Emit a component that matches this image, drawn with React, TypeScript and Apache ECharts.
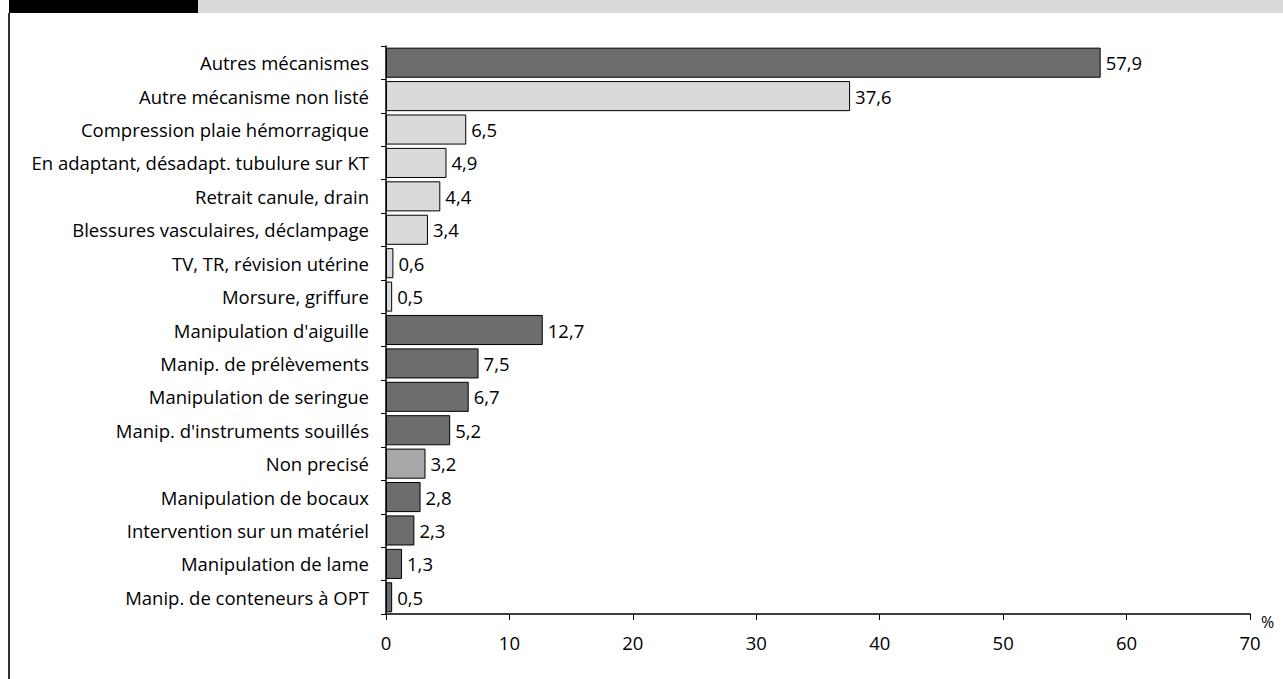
import React, { useEffect, useRef } from "react";
import * as echarts from "echarts";

const categories = [
  "Autres mécanismes",
  "Autre mécanisme non listé",
  "Compression plaie hémorragique",
  "En adaptant, désadapt. tubulure sur KT",
  "Retrait canule, drain",
  "Blessures vasculaires, déclampage",
  "TV, TR, révision utérine",
  "Morsure, griffure",
  "Manipulation d'aiguille",
  "Manip. de prélèvements",
  "Manipulation de seringue",
  "Manip. d'instruments souillés",
  "Non precisé",
  "Manipulation de bocaux",
  "Intervention sur un matériel",
  "Manipulation de lame",
  "Manip. de conteneurs à OPT",
];
const values = [57.9, 37.6, 6.5, 4.9, 4.4, 3.4, 0.6, 0.5, 12.7, 7.5, 6.7, 5.2, 3.2, 2.8, 2.3, 1.3, 0.5];
// group: 0 = dark, 1 = light, 2 = medium
const groups = [0, 1, 1, 1, 1, 1, 1, 1, 0, 0, 0, 0, 2, 0, 0, 0, 0];
const groupColors = ["#6d6d6f", "#d9dadc", "#a8a8aa"];

const FONT = "'Open Sans', 'Noto Sans', sans-serif";
const FS = 18.5;

export default function App() {
  const ref = useRef<HTMLDivElement>(null);
  useEffect(() => {
    const chart = echarts.init(ref.current!, null, { renderer: "svg" });
    chart.setOption({
      animation: false,
      backgroundColor: "#ffffff",
      graphic: [
        { type: "rect", left: 9, top: 0, shape: { width: 189, height: 13 }, style: { fill: "#000000" } },
        { type: "rect", left: 198, top: 0, shape: { width: 1085, height: 13 }, style: { fill: "#d9dadc" } },
        { type: "rect", left: 8, top: 13, shape: { width: 2, height: 666 }, style: { fill: "#333333" } },
      ],
      grid: { left: 386, right: 33, top: 46, bottom: 65, containLabel: false },
      xAxis: {
        type: "value",
        min: 0,
        max: 70,
        interval: 10,
        name: "%",
        nameLocation: "end",
        nameGap: 11,
        nameTextStyle: { fontFamily: FONT, fontSize: 16, color: "#000", verticalAlign: "top", padding: [0, 0, 0, 0] },
        axisLine: { show: true, lineStyle: { color: "#000", width: 1.5 } },
        axisTick: { show: true, length: 6, lineStyle: { color: "#000" } },
        axisLabel: { fontFamily: FONT, fontSize: FS, color: "#000", margin: 19 },
        splitLine: { show: false },
      },
      yAxis: {
        type: "category",
        data: categories,
        inverse: true,
        axisLine: { show: true, lineStyle: { color: "#000", width: 1.5 } },
        axisTick: { show: true, length: 5, lineStyle: { color: "#000" } },
        axisLabel: { fontFamily: FONT, fontSize: FS, color: "#000", margin: 17 },
      },
      series: [
        {
          type: "bar",
          data: values.map((v, i) => ({
            value: v,
            itemStyle: { color: groupColors[groups[i]] },
          })),
          barCategoryGap: "10%",
          itemStyle: { borderColor: "#000", borderWidth: 1 },
          label: {
            show: true,
            position: "right",
            distance: 5,
            fontFamily: FONT,
            fontSize: FS,
            color: "#000",
            formatter: (p: any) => String(p.value).replace(".", ","),
          },
        },
      ],
    });
    return () => chart.dispose();
  }, []);
  return (
    <div
      ref={ref}
      style={{ position: "fixed", left: 0, top: 0, width: 1283, height: 679 }}
    />
  );
}
